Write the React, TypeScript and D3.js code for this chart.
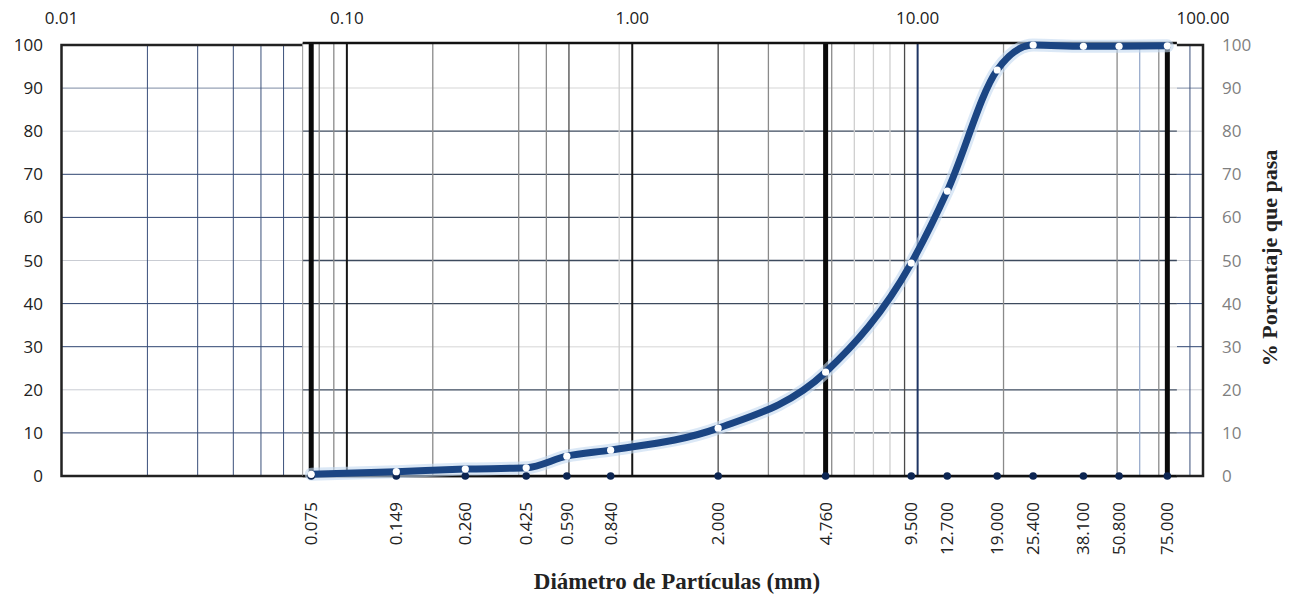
import React from "react";
import * as d3 from "d3";

// sieve openings (mm) and % passing
const sieves = [0.075, 0.149, 0.26, 0.425, 0.59, 0.84, 2.0, 4.76, 9.5, 12.7, 19.0, 25.4, 38.1, 50.8, 75.0];
const passing = [0.4, 1.0, 1.6, 1.9, 4.6, 6.0, 11.1, 24.1, 49.4, 66.1, 94.2, 100, 99.7, 99.7, 99.8];

const topTicks = [0.01, 0.1, 1, 10, 100];
const yTicks = [0, 10, 20, 30, 40, 50, 60, 70, 80, 90, 100];

// background chart grid
const baseMinor = [0.02, 0.03, 0.04, 0.05, 0.06, 90];
const baseDarkRows = [10, 30, 40, 60, 70];
const baseMidRows = [90];
const baseLightRows = [20, 50, 80];

// pasted sieve grid
const overlayExtent = [0.07, 81];
const gridBlack = [0.1, 1];
const gridDark = [0.6, 2, 9];
const gridGray = [0.08, 0.09, 0.2, 0.4, 0.5, 3, 5, 20, 50, 70];
const gridLight = [0.9, 4, 6, 7, 8];
const gridBlue = [10];
const gridPaleBlue = [60];
const gridHeavy = [0.075, 4.76, 75];
const overlayDarkRows = [10, 20, 40, 50, 60, 70, 80];
const overlayLightRows = [30, 90];

const W = 1299;
const H = 596;

export default function App() {
  const x = d3.scaleLog().domain([0.01, 100]).range([61.5, 1203]);
  const y = d3.scaleLinear().domain([0, 100]).range([476, 45]);
  const ox0 = x(overlayExtent[0]);
  const ox1 = x(overlayExtent[1]);
  const pts: [number, number][] = sieves.map((s, i) => [x(s), y(passing[i])]);
  const line = d3.line().curve(d3.curveMonotoneX)(pts) || "";

  const vline = (v: number, stroke: string, w: number, key: string, y0 = 43) => (
    <line key={key} x1={x(v)} x2={x(v)} y1={y0} y2={y(0)} stroke={stroke} strokeWidth={w} />
  );
  const sans = "'Open Sans', sans-serif";
  const serif = "'Liberation Serif', 'Times New Roman', serif";

  return (
    <svg width={W} height={H} style={{ position: "absolute", left: 0, top: 0, background: "#fff" }}>
      {/* background chart */}
      <g>
        {baseLightRows.map((v) => (
          <line key={"bl" + v} x1={61.5} x2={1203} y1={y(v)} y2={y(v)} stroke="#c9ccd3" strokeWidth={1} />
        ))}
        {baseMidRows.map((v) => (
          <line key={"bm" + v} x1={61.5} x2={1203} y1={y(v)} y2={y(v)} stroke="#7d8aa3" strokeWidth={1} />
        ))}
        {baseDarkRows.map((v) => (
          <line key={"bd" + v} x1={61.5} x2={1203} y1={y(v)} y2={y(v)} stroke="#2e4470" strokeWidth={1} />
        ))}
        {baseMinor.map((v) => vline(v, "#3a4f7a", 1, "bv" + v, 45))}
        <rect x={61.5} y={45} width={1203 - 61.5} height={y(0) - 45} fill="none" stroke="#222" strokeWidth={2.5} />
      </g>

      {/* pasted grid */}
      <g>
        <rect x={ox0} y={43} width={ox1 - ox0} height={y(0) - 43} fill="#fff" />
        {overlayLightRows.map((v) => (
          <line key={"ol" + v} x1={ox0} x2={ox1} y1={y(v)} y2={y(v)} stroke="#e3e3e3" strokeWidth={1.5} />
        ))}
        {overlayDarkRows.map((v) => (
          <line key={"od" + v} x1={ox0} x2={ox1} y1={y(v)} y2={y(v)} stroke="#3d4a5e" strokeWidth={1.3} />
        ))}
        <line x1={ox0} x2={ox0} y1={43} y2={y(0)} stroke="#999" strokeWidth={1} />
        {gridLight.map((v) => vline(v, "#cfcfcf", 1.3, "gl" + v))}
        {gridGray.map((v) => vline(v, "#8a8a8a", 1.3, "gg" + v))}
        {gridDark.map((v) => vline(v, "#4a4a4a", 1.3, "gd" + v))}
        {gridPaleBlue.map((v) => vline(v, "#9aaccc", 1.3, "gp" + v))}
        {gridBlue.map((v) => vline(v, "#1f3564", 2, "gb" + v))}
        {gridBlack.map((v) => vline(v, "#151515", 2, "gk" + v))}
        {gridHeavy.map((v) => vline(v, "#0a0a0a", 5, "gh" + v))}
        <line x1={ox0} x2={ox1} y1={43} y2={43} stroke="#111" strokeWidth={2.5} />
        <line x1={ox0} x2={ox1} y1={y(0)} y2={y(0)} stroke="#111" strokeWidth={2.5} />
      </g>

      {/* series */}
      <path d={line} fill="none" stroke="#c3d8f0" strokeWidth={13} strokeLinecap="round" opacity={0.6} />
      <path d={line} fill="none" stroke="#1b4583" strokeWidth={7} strokeLinecap="round" />
      {sieves.map((s) => (
        <circle key={"z" + s} cx={x(s)} cy={y(0)} r={3.8} fill="#0c2552" />
      ))}
      {sieves.map((s, i) => (
        <circle key={"p" + s} cx={x(s)} cy={y(passing[i])} r={3.6} fill="#fff" />
      ))}

      {/* axes text */}
      {topTicks.map((t) => (
        <text key={"t" + t} x={x(t)} y={24} textAnchor="middle" fontFamily={sans} fontSize={17} fill="#222">
          {t.toFixed(2)}
        </text>
      ))}
      {yTicks.map((t) => (
        <text key={"yl" + t} x={43} y={y(t) + 6} textAnchor="end" fontFamily={sans} fontSize={17} fill="#222">
          {t}
        </text>
      ))}
      {yTicks.map((t) => (
        <text key={"yr" + t} x={1222} y={y(t) + 6} textAnchor="start" fontFamily={sans} fontSize={17} fill="#7f7f7f">
          {t}
        </text>
      ))}
      {sieves.map((s) => (
        <text
          key={"s" + s}
          transform={`translate(${x(s) + 6},502) rotate(-90)`}
          textAnchor="end"
          fontFamily={sans}
          fontSize={17}
          fill="#222"
        >
          {s.toFixed(3)}
        </text>
      ))}
      <text x={677} y={589} textAnchor="middle" fontFamily={serif} fontWeight="bold" fontSize={23} fill="#222">
        Diámetro de Partículas (mm)
      </text>
      <text
        transform="translate(1277,258) rotate(-90)"
        textAnchor="middle"
        fontFamily={serif}
        fontWeight="bold"
        fontSize={22}
        fill="#222"
      >
        % Porcentaje que pasa
      </text>
    </svg>
  );
}
